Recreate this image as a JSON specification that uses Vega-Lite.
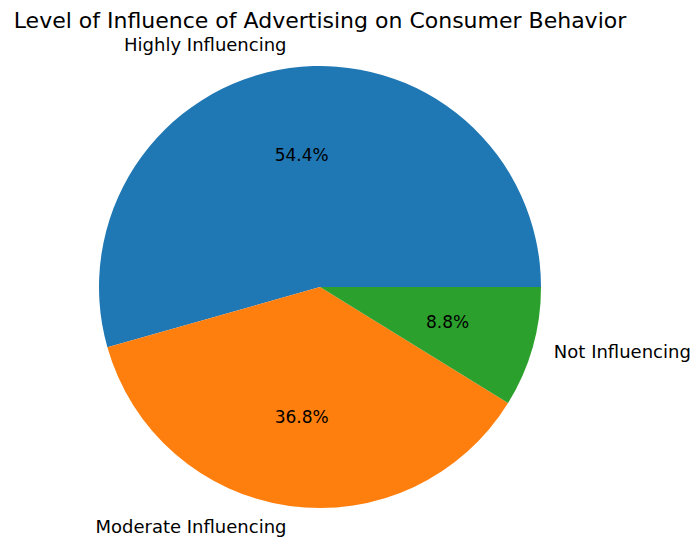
{
  "$schema": "https://vega.github.io/schema/vega-lite/v6.json",
  "autosize": "none",
  "padding": {"left": 99, "top": 66, "right": 155, "bottom": 34},
  "width": 442,
  "height": 442,
  "background": "white",
  "title": {
    "text": "Level of Influence of Advertising on Consumer Behavior",
    "font": "DejaVu Sans",
    "fontSize": 22,
    "fontWeight": "normal",
    "color": "#000000",
    "anchor": "middle",
    "baseline": "alphabetic",
    "offset": -13
  },
  "data": {
    "values": [
      {"label": "Highly Influencing", "share": 54.4, "pct": "54.4%", "order": 1},
      {"label": "Moderate Influencing", "share": 36.8, "pct": "36.8%", "order": 2},
      {"label": "Not Influencing", "share": 8.8, "pct": "8.8%", "order": 3}
    ]
  },
  "encoding": {
    "theta": {"field": "share", "type": "quantitative", "stack": true, "scale": {"range": [1.5707963, -4.712389]}},
    "order": {"field": "order", "type": "quantitative", "sort": "ascending"}
  },
  "config": {"view": {"stroke": null}},
  "layer": [
    {
      "mark": {"type": "arc", "outerRadius": 221},
      "encoding": {
        "color": {
          "field": "label",
          "type": "nominal",
          "scale": {"domain": ["Highly Influencing", "Moderate Influencing", "Not Influencing"], "range": ["#1f77b4", "#ff7f0e", "#2ca02c"]},
          "legend": null
        }
      }
    },
    {
      "mark": {"type": "text", "radius": 132.6, "font": "DejaVu Sans", "fontSize": 17, "color": "#000000", "align": "center", "baseline": "middle"},
      "encoding": {"text": {"field": "pct", "type": "nominal"}}
    },
    {
      "mark": {"type": "text", "radius": 243.1, "font": "DejaVu Sans", "fontSize": 18, "color": "#000000", "align": "right", "baseline": "middle"},
      "encoding": {"text": {"condition": {"test": "datum.label != 'Not Influencing'", "field": "label"}, "value": ""}}
    },
    {
      "mark": {"type": "text", "radius": 243.1, "font": "DejaVu Sans", "fontSize": 18, "color": "#000000", "align": "left", "baseline": "middle"},
      "encoding": {"text": {"condition": {"test": "datum.label == 'Not Influencing'", "field": "label"}, "value": ""}}
    }
  ]
}
